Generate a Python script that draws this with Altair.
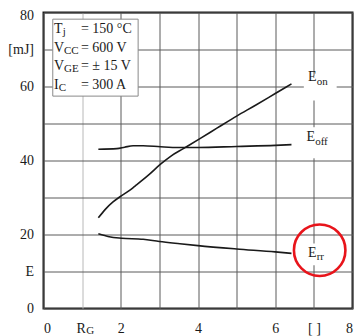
import altair as alt
import pandas as pd

# Switching energy vs. gate resistance (Tj = 150 °C, VCC = 600 V, VGE = ±15 V, IC = 300 A)
rg_on = [1.42, 1.6, 1.8, 1.98, 2.2, 2.37, 2.7, 3.03, 3.3, 3.62, 4.05, 4.5, 5.0, 5.5, 6.0, 6.42]
e_on = [24.5, 26.8, 28.8, 30.2, 31.7, 33.1, 35.9, 39.0, 41.2, 43.2, 45.9, 48.8, 52.0, 55.0, 58.1, 60.7]

rg_off = [1.42, 1.9, 2.1, 2.32, 2.58, 3.03, 3.5, 4.0, 5.0, 6.0, 6.42]
e_off = [43.05, 43.2, 43.6, 44.0, 44.0, 43.7, 43.5, 43.5, 43.8, 44.1, 44.3]

rg_rr = [1.42, 1.7, 2.02, 2.58, 3.0, 3.53, 4.0, 5.0, 6.0, 6.42]
e_rr = [20.2, 19.4, 19.0, 18.7, 18.1, 17.5, 17.0, 16.1, 15.3, 14.9]

x_ticks = [0, 1, 2, 3, 4, 5, 6, 7, 8]
y_ticks = [0, 10, 20, 30, 40, 50, 60, 70, 80]

conditions = [
    ("T", "j", "= 150 °C"),
    ("V", "CC", "= 600 V"),
    ("V", "GE", "= ± 15 V"),
    ("I", "C", "= 300 A"),
]

SERIF = "Liberation Serif"
INK = "#1a1a1a"
GRID = "#5a5a5a"

xs = alt.Scale(domain=[0, 8], nice=False, zero=False)
ys = alt.Scale(domain=[0, 80], nice=False, zero=False)

curves = pd.DataFrame({
    "rg": rg_on + rg_off + rg_rr,
    "e": e_on + e_off + e_rr,
    "curve": ["on"] * len(rg_on) + ["off"] * len(rg_off) + ["rr"] * len(rg_rr),
})

x_axis = alt.Axis(
    values=x_ticks, title=None, domain=False, ticks=False, tickSize=0,
    labelPadding=13, labelFont=SERIF, labelFontSize=14, labelColor=INK,
    labelExpr="datum.value == 1 ? 'R' : datum.value == 7 ? '[ ]' : "
              "datum.value % 2 == 0 ? datum.label : ''",
    labelOffset={"condition": {"test": "datum.value === 1", "value": -1.5}, "value": 0},
    gridColor={"condition": {"test": "datum.value === 1", "value": "#b8b8b8"}, "value": GRID},
    gridWidth=1,
)
y_axis = alt.Axis(
    values=y_ticks, title=None, domain=False, ticks=False, tickSize=0,
    labelPadding=10, labelFont=SERIF, labelFontSize=14, labelColor=INK,
    labelExpr="datum.value == 10 ? 'E' : datum.value == 70 ? '[mJ]' : "
              "datum.value % 20 == 0 ? datum.label : ''",
    labelOffset={"condition": {"test": "datum.value === 80", "value": 3}, "value": 0},
    gridColor=GRID, gridWidth=1,
)


def X(field):
    return alt.X(field, scale=xs, axis=x_axis)


def Y(field):
    return alt.Y(field, scale=ys, axis=y_axis)


lines = alt.Chart(curves).mark_line(
    interpolate="monotone", strokeWidth=1.6, color=INK
).encode(
    x=X("rg:Q"),
    y=Y("e:Q"),
    detail="curve:N",
)


def box(x0, x1, y0, y1, stroke=None):
    df = pd.DataFrame({"rg": [x0], "x1": [x1], "e": [y0], "y1": [y1]})
    kw = dict(fill="white")
    if stroke:
        kw.update(stroke=stroke, strokeWidth=1)
    return alt.Chart(df).mark_rect(**kw).encode(
        x=X("rg:Q"), x2="x1:Q",
        y=Y("e:Q"), y2="y1:Q",
    )


def text(x, y, t, size=14, dx=0, dy=0, align="left"):
    df = pd.DataFrame({"rg": [x], "e": [y], "t": [t]})
    return alt.Chart(df).mark_text(
        align=align, baseline="alphabetic", font=SERIF, fontSize=size,
        dx=dx, dy=dy, color=INK,
    ).encode(
        x=X("rg:Q"),
        y=Y("e:Q"),
        text="t:N",
    )


# white patches behind the curve labels
label_bg = [
    box(6.74, 7.59, 63.0, 56.2),
    box(6.71, 7.44, 49.0, 40.6),
    box(6.74, 7.31, 17.6, 11.7),
]

# curve labels E_on, E_off, E_rr
curve_labels = [
    text(6.85, 61.4, "E"), text(6.85, 61.4, "on", size=11, dx=8.6, dy=3.5),
    text(6.81, 45.2, "E"), text(6.81, 45.2, "off", size=11, dx=8.6, dy=3.5),
    text(6.85, 13.95, "E"), text(6.85, 13.95, "rr", size=11, dx=8.6, dy=3),
]

# test-condition box
cond_layers = [box(0.24, 2.45, 78.2, 57.4, stroke="#8a8a8a")]
sub_dx = {"T": 8.8, "V": 10.1, "I": 4.8}
baselines = [74.5, 69.35, 64.4, 59.3]
for (main, sub, rest), yb in zip(conditions, baselines):
    cond_layers.append(text(0.27, yb, main))
    cond_layers.append(text(0.27, yb, sub, size=11, dx=sub_dx[main], dy=2))
    cond_layers.append(text(0.97, yb, rest))

# subscript of the R_G axis label
rg_sub = text(1.11, -7.0, "G", size=11)

# red highlight ring around E_rr
ring = alt.Chart(pd.DataFrame({"rg": [7.15], "e": [15.76]})).mark_point(
    shape="circle", filled=False, size=2650, stroke="#e8141b", strokeWidth=2.6, opacity=1
).encode(
    x=X("rg:Q"),
    y=Y("e:Q"),
)

chart = alt.layer(
    lines, *label_bg, *curve_labels, *cond_layers, rg_sub, ring
).properties(
    width=309, height=296,
    autosize=alt.AutoSizeParams(type="none"),
    padding={"left": 43.5, "top": 12.5, "right": 3.5, "bottom": 27.5},
    background="white",
).configure_view(stroke=INK, strokeWidth=2)

chart.save("out.html", embed_options={"renderer": "svg", "actions": False})
